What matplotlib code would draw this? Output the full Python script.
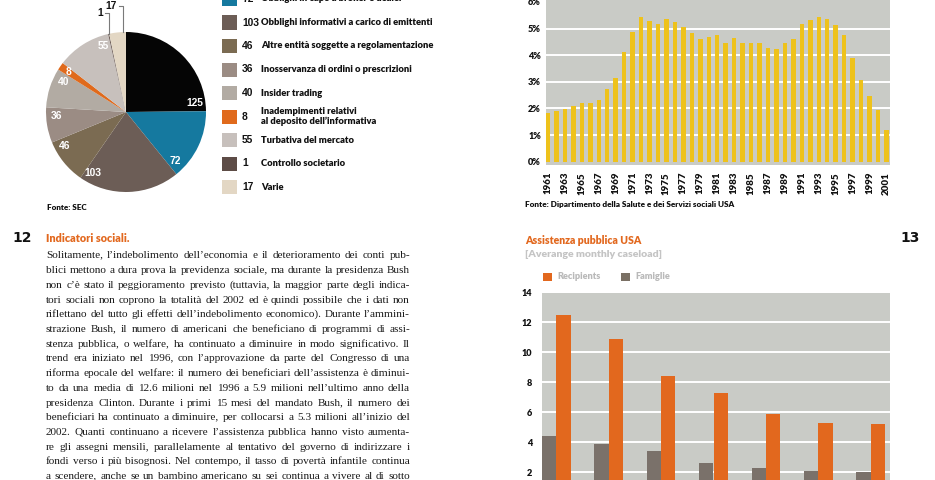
import math
import matplotlib
matplotlib.use('Agg')
import matplotlib.pyplot as plt
from matplotlib import font_manager
from matplotlib.font_manager import FontProperties
import numpy as np

W, H = 935, 480

# ---------------- data ----------------
sec_values = [125, 72, 103, 46, 36, 40, 8, 55, 1, 17]
sec_names = [None,
             "Obblighi in capo a broker e dealer",
             "Obblighi informativi a carico di emittenti",
             "Altre entità soggette a regolamentazione",
             "Inosservanza di ordini o prescrizioni",
             "Insider trading",
             "Inadempimenti relativi\nal deposito dell’informativa",
             "Turbativa del mercato",
             "Controllo societario",
             "Varie"]
sec_colors = ['#050505', '#15799F', '#6C5D56', '#7B6B52', '#9B8C84',
              '#B2ABA3', '#E06A1C', '#C7C0BC', '#5D4C46', '#E3D7C4']

welfare_years = list(range(1961, 2002))
welfare_pct = [1.83, 1.91, 1.97, 2.11, 2.19, 2.19, 2.30, 2.73, 3.16, 4.12,
               4.87, 5.43, 5.30, 5.18, 5.35, 5.23, 5.06, 4.84, 4.60, 4.68,
               4.75, 4.44, 4.66, 4.46, 4.44, 4.46, 4.27, 4.25, 4.46, 4.60,
               5.16, 5.33, 5.43, 5.34, 5.14, 4.77, 3.88, 3.07, 2.47, 1.93,
               1.20]

caseload_recipients = [12.5, 10.9, 8.4, 7.3, 5.9, 5.3, 5.2]
caseload_families = [4.4, 3.9, 3.4, 2.6, 2.3, 2.1, 2.0]

body_lines = [
    "Solitamente, l’indebolimento dell’economia e il deterioramento dei conti pub-",
    "blici mettono a dura prova la previdenza sociale, ma durante la presidenza Bush",
    "non c’è stato il peggioramento previsto (tuttavia, la maggior parte degli indica-",
    "tori sociali non coprono la totalità del 2002 ed è quindi possibile che i dati non",
    "riflettano del tutto gli effetti dell’indebolimento economico). Durante l’ammini-",
    "strazione Bush, il numero di americani che beneficiano di programmi di assi-",
    "stenza pubblica, o welfare, ha continuato a diminuire in modo significativo. Il",
    "trend era iniziato nel 1996, con l’approvazione da parte del Congresso di una",
    "riforma epocale del welfare: il numero dei beneficiari dell’assistenza è diminui-",
    "to da una media di 12.6 milioni nel 1996 a 5.9 milioni nell’ultimo anno della",
    "presidenza Clinton. Durante i primi 15 mesi del mandato Bush, il numero dei",
    "beneficiari ha continuato a diminuire, per collocarsi a 5.3 milioni all’inizio del",
    "2002. Quanti continuano a ricevere l’assistenza pubblica hanno visto aumenta-",
    "re gli assegni mensili, parallelamente al tentativo del governo di indirizzare i",
    "fondi verso i più bisognosi. Nel contempo, il tasso di povertà infantile continua",
    "a scendere, anche se un bambino americano su sei continua a vivere al di sotto",
]

# ---------------- styles ----------------
names = {f.name for f in font_manager.fontManager.ttflist}
NARROW = 'Liberation Sans Narrow' if 'Liberation Sans Narrow' in names else 'Liberation Sans'
HEAD = 'Lato' if 'Lato' in names else 'DejaVu Sans'
SERIF = 'Liberation Serif'
ORANGE = '#E2681E'
PANEL = '#C9CBC6'
YELLOW = '#EEC21B'
GRAYTXT = '#B9B9B9'

fig = plt.figure(figsize=(W / 100, H / 100), dpi=100)
fig.patch.set_facecolor('white')
renderer = fig.canvas.get_renderer()


def fbox(x0, y0, x1, y1):
    return [x0 / W, 1 - y1 / H, (x1 - x0) / W, (y1 - y0) / H]


def ftxt(x, y, s, **kw):
    return fig.text(x / W, 1 - y / H, s, **kw)


def metrics(s, **fpkw):
    fp = FontProperties(**fpkw)
    return renderer.get_text_width_height_descent(s, fp, ismath=False)


def text_w(s, **fpkw):
    return metrics(s, **fpkw)[0]


def fit_size(s, target, **fpkw):
    return 10 * target / text_w(s, size=10, **fpkw)


# ---------------- pie ----------------
cx, cy, R = 126, 112, 80
axp = fig.add_axes(fbox(cx - R, cy - R, cx + R, cy + R))
axp.pie(sec_values, colors=sec_colors, startangle=90, counterclock=False,
        radius=1, wedgeprops=dict(linewidth=0))
axp.set_xlim(-1, 1)
axp.set_ylim(-1, 1)
axp.axis('off')

total = float(sum(sec_values))
cum = np.cumsum(sec_values)
outside_idx = [8, 9]
outside_h = [1.24, 1.33]
pie_lab_kw = dict(family=NARROW, weight='bold', size=7.4)
for i, v in enumerate(sec_values):
    a_end = 90 - cum[i] / total * 360
    span = v / total * 360
    if i in outside_idx:
        a = np.radians(a_end + 0.2 * span)
        xe, ye = np.cos(a), np.sin(a)
        hy = outside_h[outside_idx.index(i)]
        axp.plot([xe - 0.05, xe, xe], [hy, hy, ye], color='#7A7A7A', lw=0.8,
                 clip_on=False)
        axp.text(xe - 0.07, hy, str(v), ha='right', va='center', color='#111111',
                 clip_on=False, **pie_lab_kw)
        continue
    a = np.radians(a_end + 6.5 if span > 14 else a_end + span / 2)
    r = 0.87
    axp.text(r * np.cos(a), r * np.sin(a), str(v), ha='center', va='center',
             color='white', **pie_lab_kw)

ftxt(47, 207, "Fonte: SEC", family=HEAD, weight='heavy', size=5.8,
     va='center', color='#111111')

# ---------------- pie legend ----------------
leg_size = fit_size("Obblighi informativi a carico di emittenti", 172,
                    family=HEAD, weight='heavy')
for i in range(1, len(sec_values)):
    yc = -1.0 + 23.5 * (i - 1)
    fig.patches.append(plt.Rectangle((222 / W, 1 - (yc + 7) / H), 15 / W, 14 / H,
                                     transform=fig.transFigure,
                                     color=sec_colors[i], lw=0))
    ftxt(242, yc, str(sec_values[i]), family=NARROW, weight='bold', size=7.4,
         va='center', ha='left', color='#111111')
    ftxt(261, yc, sec_names[i], family=HEAD, weight='heavy', size=leg_size,
         va='center', ha='left', color='#111111', linespacing=0.95)

# ---------------- welfare % chart ----------------
ax1 = fig.add_axes(fbox(545.7, 0, 890, 165))
ax1.set_facecolor(PANEL)
ax1.bar(welfare_years, welfare_pct, width=0.53, color=YELLOW, zorder=3, lw=0)
for g in range(1, 6):
    ax1.axhline(g, color='white', lw=1.4, zorder=2)
ax1.set_xlim(1960.73, 2001.42)
ax1.set_ylim(-0.12, 6.07)
ax1.set_yticks(range(0, 7))
ax1.set_yticklabels([f"{g}%" for g in range(0, 7)])
odd_years = welfare_years[::2]
ax1.set_xticks(odd_years)
ax1.set_xticklabels([str(y) for y in odd_years], rotation=90)
ax1.tick_params(length=0, pad=3.4, labelsize=6.6)
ax1.tick_params(axis='x', pad=5, labelsize=7.0)
for lab in ax1.get_xticklabels() + ax1.get_yticklabels():
    lab.set_family(HEAD)
    lab.set_weight('heavy')
    lab.set_color('#111111')
for s in ax1.spines.values():
    s.set_visible(False)
ftxt(525, 204, "Fonte: Dipartimento della Salute e dei Servizi sociali USA",
     family=HEAD, weight='heavy',
     size=fit_size("Fonte: Dipartimento della Salute e dei Servizi sociali USA", 210,
                   family=HEAD, weight='heavy'),
     va='center', color='#111111')

# ---------------- page text ----------------
ftxt(12, 238, "12", family='DejaVu Sans', weight='bold', size=10, va='center',
     color='#111111')
ftxt(900, 238, "13", family='DejaVu Sans', weight='bold', size=10, va='center',
     color='#111111')
ftxt(46, 239, "Indicatori sociali.", family=HEAD, weight='heavy',
     size=fit_size("Indicatori sociali.", 83, family=HEAD, weight='heavy'),
     va='center', color=ORANGE)

# justified body text, one text per word, baselines snapped to whole pixels
x_left, x_right = 46, 410
target_w = x_right - x_left
nat10 = [text_w(l, family=SERIF, size=10) for l in body_lines]
body_size = 10 * (target_w - 4) / max(nat10)
for k, line in enumerate(body_lines):
    words = line.split(' ')
    mets = [metrics(w, family=SERIF, size=body_size) for w in words]
    ws = [m[0] for m in mets]
    gap = (target_w - sum(ws)) / max(len(words) - 1, 1)
    B = round(258.5 + 14.7 * k)
    x = x_left
    for w, (wd, hh, dd) in zip(words, mets):
        A = hh - dd
        Y = B - math.floor(A) + math.floor(A + dd) - dd
        fig.text(x / W, (H - Y) / H, w, family=SERIF, size=body_size,
                 va='baseline', ha='left', color='#1A1A1A')
        x += wd + gap

# ---------------- caseload chart ----------------
ftxt(525, 240, "Assistenza pubblica USA", family=HEAD, weight='heavy',
     size=fit_size("Assistenza pubblica USA", 117, family=HEAD, weight='heavy'),
     va='center', color=ORANGE)
ftxt(525, 254.5, "[Averange monthly caseload]", family=HEAD, weight='heavy',
     size=fit_size("[Averange monthly caseload]", 138, family=HEAD, weight='heavy'),
     va='center', color='#C4C4C4')

leg_items = [("Recipients", ORANGE, 543), ("Famiglie", '#7A7064', 621)]
for name, col, x0 in leg_items:
    fig.patches.append(plt.Rectangle((x0 / W, 1 - 281 / H), 8.5 / W, 8.5 / H,
                                     transform=fig.transFigure, color=col, lw=0))
    ftxt(x0 + 14, 276.5, name, family=HEAD, weight='heavy', size=6.6,
         va='center', color=GRAYTXT)

sp = 52.4
bw = 14.3 / sp
ax2 = fig.add_axes(fbox(542, 292.5, 890, 502))
ax2.set_facecolor(PANEL)
xs = np.arange(len(caseload_recipients))
ax2.bar(xs - bw / 2, caseload_families, width=bw, color='#7A716A', lw=0, zorder=3)
ax2.bar(xs + bw / 2, caseload_recipients, width=bw, color=ORANGE, lw=0, zorder=3)
for g in range(2, 14, 2):
    ax2.axhline(g, color='white', lw=1.4, zorder=2)
ax2.set_xlim(-bw, -bw + (890 - 542) / sp)
ax2.set_ylim(0, 14)
ax2.set_yticks(range(2, 15, 2))
ax2.set_xticks([])
ax2.tick_params(length=0, pad=7, labelsize=6.6)
for lab in ax2.get_yticklabels():
    lab.set_family(HEAD)
    lab.set_weight('heavy')
    lab.set_color('#111111')
for s in ax2.spines.values():
    s.set_visible(False)

fig.savefig('out.png', dpi=100, facecolor='white')
